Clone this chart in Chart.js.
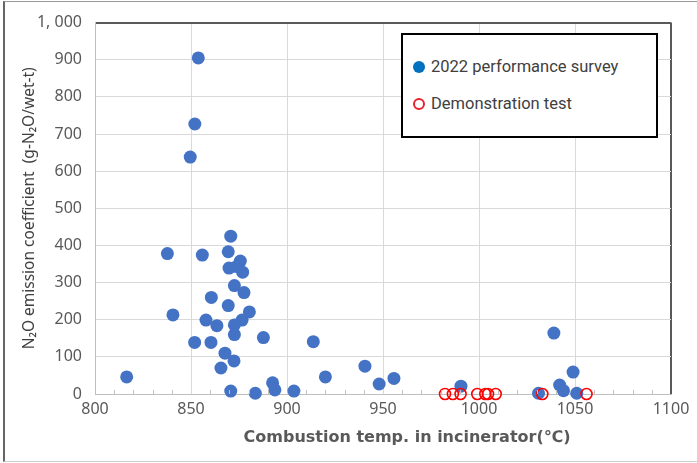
<!DOCTYPE html>
<html>
<head>
<meta charset="utf-8">
<script src="https://cdn.jsdelivr.net/npm/chart.js@4/dist/chart.umd.min.js"></script>
<style>
  body { margin: 0; background: #fff; }
  #wrap { position: relative; width: 697px; height: 463px; }
  #frame {
    position: absolute; left: 3px; top: 1px; right: 0; bottom: 1px;
    border-left: 2px solid #666; border-top: 1px solid #999; border-bottom: 1px solid #d0d0d0;
    pointer-events: none;
  }
  #legend {
    position: absolute; left: 401px; top: 33px; width: 257px; height: 105px;
    box-sizing: border-box; border: 2px solid #000; background: #fff;
    font-family: Roboto, "Noto Sans", sans-serif; font-size: 16.5px; color: #404040;
  }
  .item { position: absolute; left: 10px; height: 20px; line-height: 20px; white-space: nowrap; }
  .mark { display: inline-block; width: 12px; height: 12px; border-radius: 50%; box-sizing: border-box;
          vertical-align: -1px; margin-right: 6px; }
</style>
</head>
<body>
<div id="wrap">
  <canvas id="chart" width="697" height="463"></canvas>
  <div id="frame"></div>
  <div id="legend">
    <div class="item" style="top:22px"><span class="mark" style="background:#0070C0"></span>2022 performance survey</div>
    <div class="item" style="top:59px"><span class="mark" style="border:2px solid #E8232F"></span>Demonstration test</div>
  </div>
</div>
<script>
// 2022 実績調査 (blue)
const surveyTemp = [816.5, 837.7, 840.6, 849.6, 852, 853.8, 851.9, 855.9, 857.8, 860.6,
                    860.4, 863.5, 865.6, 867.7, 869.4, 869.8, 870.7, 870.7, 872.6, 872.6,
                    872.6, 872.4, 873.8, 875.7, 876.9, 877.6, 869.4, 876.6, 880.4, 883.5,
                    887.7, 892.5, 893.7, 903.6, 913.7, 920, 940.6, 948, 955.7, 990.6,
                    1031, 1039, 1042, 1044, 1049, 1050.9];
const surveyN2O  = [46, 378, 213, 638, 727, 905, 139, 374, 199, 260,
                    139, 184, 70, 110, 383, 339, 425, 8, 292, 186,
                    160, 89, 343, 358, 328, 273, 238, 199, 221, 2,
                    152, 30, 11, 8, 141, 46, 75, 27, 42, 21,
                    2, 164, 24, 9, 59, 2];
// 実証試験 (red ring)
const testTemp = [982.3, 986.4, 990.4, 999.1, 1003.3, 1004.7, 1008.7, 1033, 1056];
const testN2O  = [0, 0, 0, 0, 0, 0, 0, 0, 0];

const xTicks = [800, 850, 900, 950, 1000, 1050, 1100];

const toPoints = (xs, ys) => xs.map((x, i) => ({ x: x, y: ys[i] }));

const tickFont = { family: '"Liberation Sans Narrow", "Noto Sans", sans-serif', size: 16 };

// 目盛り線（x軸の小目盛り、内側向き）
const minorTicks = {
    id: 'minorTicks',
    afterDatasetsDraw(chart) {
        const { ctx, chartArea, scales } = chart;
        ctx.save();
        ctx.strokeStyle = '#bfbfbf';
        ctx.lineWidth = 1;
        for (let v = 810; v < 1100; v += 10) {
            if (v % 50 === 0) continue;
            const px = Math.round(scales.x.getPixelForValue(v)) + 0.5;
            ctx.beginPath();
            ctx.moveTo(px, chartArea.bottom);
            ctx.lineTo(px, chartArea.bottom - 4);
            ctx.stroke();
        }
        ctx.restore();
    }
};

new Chart(document.getElementById('chart'), {
    type: 'scatter',
    data: {
        datasets: [{
            label: '2022 performance survey',
            data: toPoints(surveyTemp, surveyN2O),
            backgroundColor: '#4472C4',
            borderColor: '#4472C4',
            pointRadius: 6.5,
            borderWidth: 0,
            clip: false,
            order: 2
        }, {
            label: 'Demonstration test',
            data: toPoints(testTemp, testN2O),
            backgroundColor: 'rgba(255,255,255,0)',
            borderColor: '#FF0000',
            pointRadius: 5.5,
            borderWidth: 1.6,
            clip: false,
            order: 1
        }]
    },
    options: {
        responsive: false,
        animation: false,
        layout: { padding: { left: 0, top: 18, right: 26, bottom: 0 } },
        plugins: { legend: { display: false }, tooltip: { enabled: false } },
        scales: {
            x: {
                type: 'linear',
                min: 800, max: 1100,
                afterBuildTicks: (scale) => { scale.ticks = xTicks.map(v => ({ value: v })); },
                afterFit: (scale) => { scale.height = 69; },
                grid: {
                    drawTicks: false,
                    color: (c) => c.tick && c.tick.value === 1100 ? '#595959' : '#d9d9d9',
                    lineWidth: (c) => c.tick && c.tick.value === 1100 ? 2 : 1
                },
                border: { color: '#bfbfbf', width: 1 },
                ticks: { color: '#595959', font: tickFont, padding: 6, callback: (v) => String(v) },
                title: {
                    display: true,
                    text: '\u2002\u2002\u2002\u2002\u2002\u2002Combustion temp. in incinerator(\u2103)',
                    color: '#595959',
                    font: { family: '"DejaVu Sans", sans-serif', size: 16, weight: 'bold' },
                    padding: { top: 4, bottom: 16 }
                }
            },
            y: {
                min: 0, max: 1000,
                afterFit: (scale) => { scale.width = 95; },
                grid: {
                    drawTicks: false,
                    color: (c) => c.tick && c.tick.value === 1000 ? '#595959' : '#d9d9d9',
                    lineWidth: (c) => c.tick && c.tick.value === 1000 ? 2 : 1
                },
                border: { color: '#bfbfbf', width: 1 },
                ticks: {
                    stepSize: 100,
                    color: '#595959',
                    font: tickFont,
                    padding: 13,
                    callback: (v) => v === 1000 ? '1, 000' : String(v)
                },
                title: {
                    display: true,
                    text: 'N\u2082O emission coefficient  (g-N\u2082O/wet-t)',
                    color: '#404040',
                    font: { family: '"Noto Sans", sans-serif', size: 15.5 },
                    padding: { top: 20, bottom: 0 }
                }
            }
        }
    },
    plugins: [minorTicks]
});
</script>
</body>
</html>
